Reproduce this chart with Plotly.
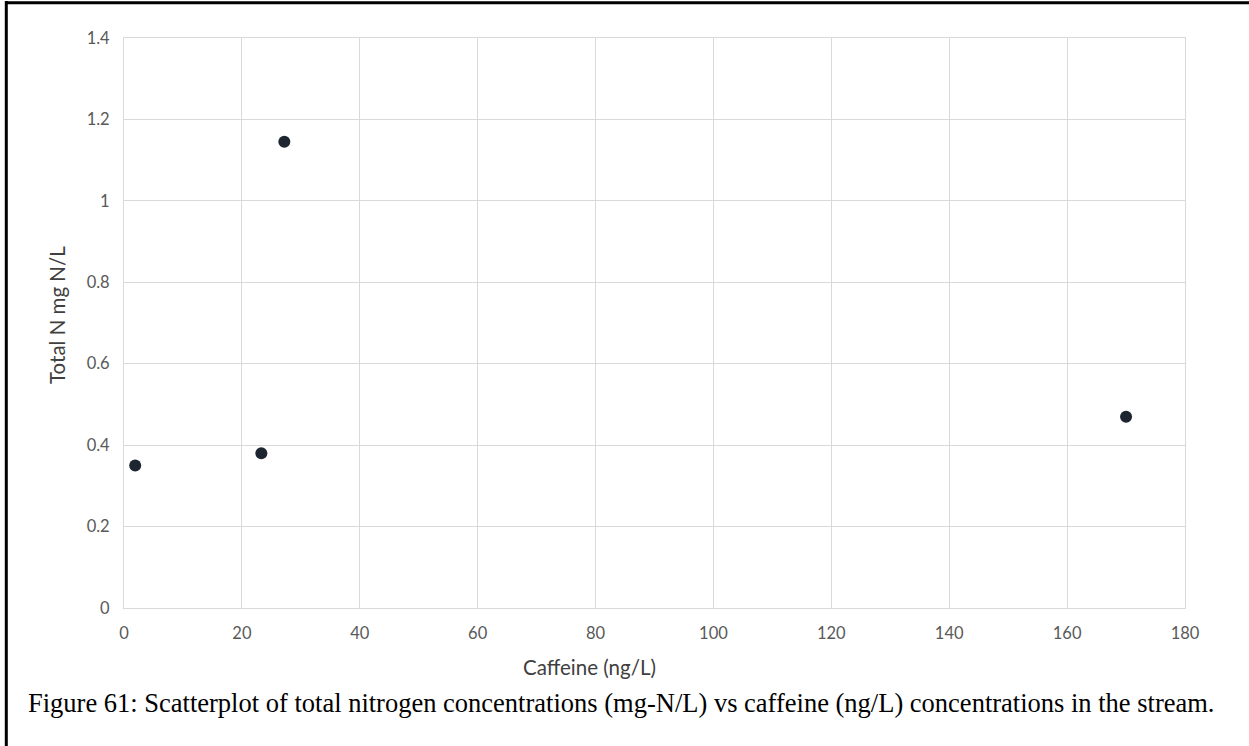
import plotly.graph_objects as go

# Sample values: caffeine (ng/L) vs total nitrogen (mg N/L)
caffeine = [1.9, 23.3, 27.2, 170.0]
total_n = [0.35, 0.38, 1.145, 0.47]

x_ticks = [0, 20, 40, 60, 80, 100, 120, 140, 160, 180]
y_ticks = [0, 0.2, 0.4, 0.6, 0.8, 1.0, 1.2, 1.4]

W, H = 1249, 746
L, R, T, B = 124, 64, 38, 138
PW, PH = W - L - R, H - T - B


def px(x):
    return (x - L) / PW


def py(y):
    return (H - B - y) / PH


grid = "#d9d9d9"
tick_font = dict(family="Lato, Open Sans, sans-serif", size=16.5, color="#595959")

fig = go.Figure(
    go.Scatter(
        x=caffeine,
        y=total_n,
        mode="markers",
        marker=dict(size=12, color="#1c2530"),
        hoverinfo="x+y",
    )
)

fig.update_xaxes(
    range=[0, 180],
    tickvals=x_ticks,
    showgrid=True,
    gridcolor=grid,
    gridwidth=1,
    showline=True,
    linecolor=grid,
    linewidth=1,
    mirror=True,
    zeroline=False,
    ticks="",
    ticklabelstandoff=10,
    tickfont=tick_font,
)
fig.update_yaxes(
    range=[0, 1.4],
    tickvals=y_ticks,
    showgrid=True,
    gridcolor=grid,
    gridwidth=1,
    showline=True,
    linecolor=grid,
    linewidth=1,
    mirror=True,
    zeroline=False,
    ticks="",
    ticklabelstandoff=10,
    tickfont=tick_font,
)

title_font = dict(family="Lato, Open Sans, sans-serif", size=20.5, color="#404040")

fig.add_annotation(
    text="Caffeine (ng/L)", x=px(589), y=py(667), xref="paper", yref="paper",
    showarrow=False, font=title_font, xanchor="center", yanchor="middle",
)
fig.add_annotation(
    text="Total N mg N/L", x=px(57), y=py(315), xref="paper", yref="paper",
    showarrow=False, font=title_font, textangle=-90, xanchor="center", yanchor="middle",
)
fig.add_annotation(
    text="Figure 61: Scatterplot of total nitrogen concentrations (mg-N/L) vs caffeine (ng/L) concentrations in the stream.",
    x=px(26), y=py(703), xref="paper", yref="paper", showarrow=False,
    font=dict(family="Liberation Serif, Times New Roman, serif", size=26.5, color="#000000"),
    xanchor="left", yanchor="middle",
)

# Frame lines along the left and top edges of the figure
fig.add_shape(type="line", xref="paper", yref="paper",
              x0=px(6.3), x1=px(6.3), y0=py(1), y1=py(H + 5),
              line=dict(color="black", width=3))
fig.add_shape(type="line", xref="paper", yref="paper",
              x0=px(5), x1=px(W + 5), y0=py(2.8), y1=py(2.8),
              line=dict(color="black", width=3))

fig.update_layout(
    width=W,
    height=H,
    margin=dict(l=L, r=R, t=T, b=B),
    paper_bgcolor="white",
    plot_bgcolor="white",
    showlegend=False,
)

fig.write_html("out.html", config={"displayModeBar": False})
